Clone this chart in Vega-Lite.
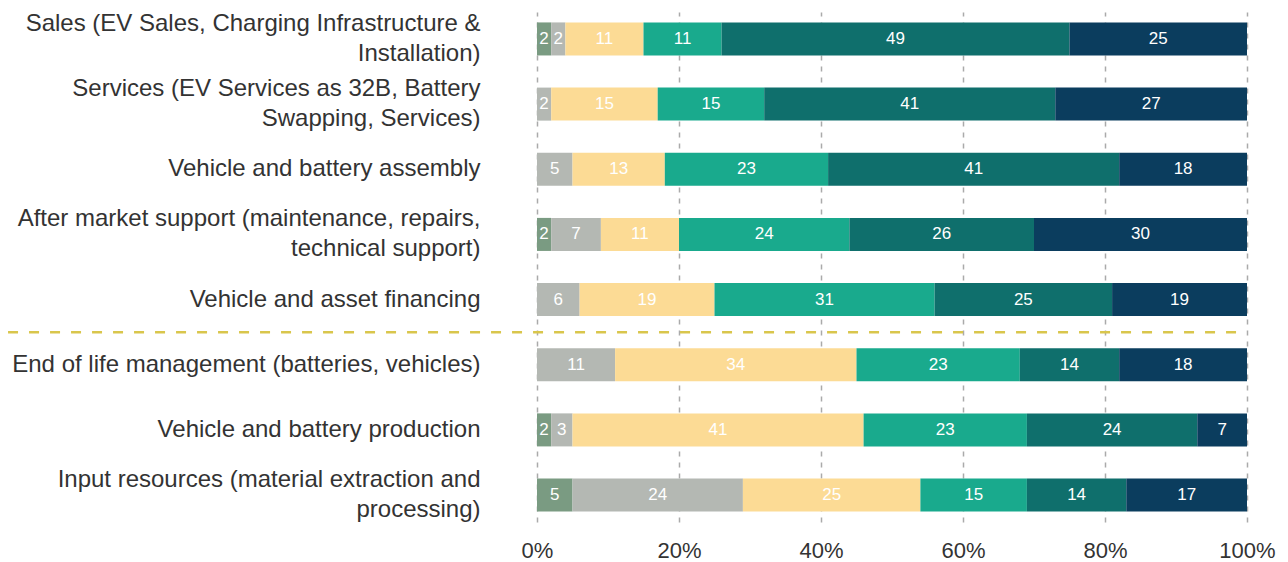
{
  "$schema": "https://vega.github.io/schema/vega-lite/v6.json",
  "width": 710,
  "height": 510,
  "autosize": {"type": "none"},
  "padding": {"left": 537, "top": 12, "right": 41, "bottom": 40},
  "config": {"view": {"stroke": null}, "font": "Liberation Sans"},
  "data": {"values": [
    {"stage": "Sales (EV Sales, Charging Infrastructure & Installation)", "level": "L1", "pct": 2},
    {"stage": "Sales (EV Sales, Charging Infrastructure & Installation)", "level": "L2", "pct": 2},
    {"stage": "Sales (EV Sales, Charging Infrastructure & Installation)", "level": "L3", "pct": 11},
    {"stage": "Sales (EV Sales, Charging Infrastructure & Installation)", "level": "L4", "pct": 11},
    {"stage": "Sales (EV Sales, Charging Infrastructure & Installation)", "level": "L5", "pct": 49},
    {"stage": "Sales (EV Sales, Charging Infrastructure & Installation)", "level": "L6", "pct": 25},
    {"stage": "Services (EV Services as 32B, Battery Swapping, Services)", "level": "L2", "pct": 2},
    {"stage": "Services (EV Services as 32B, Battery Swapping, Services)", "level": "L3", "pct": 15},
    {"stage": "Services (EV Services as 32B, Battery Swapping, Services)", "level": "L4", "pct": 15},
    {"stage": "Services (EV Services as 32B, Battery Swapping, Services)", "level": "L5", "pct": 41},
    {"stage": "Services (EV Services as 32B, Battery Swapping, Services)", "level": "L6", "pct": 27},
    {"stage": "Vehicle and battery assembly", "level": "L2", "pct": 5},
    {"stage": "Vehicle and battery assembly", "level": "L3", "pct": 13},
    {"stage": "Vehicle and battery assembly", "level": "L4", "pct": 23},
    {"stage": "Vehicle and battery assembly", "level": "L5", "pct": 41},
    {"stage": "Vehicle and battery assembly", "level": "L6", "pct": 18},
    {"stage": "After market support (maintenance, repairs, technical support)", "level": "L1", "pct": 2},
    {"stage": "After market support (maintenance, repairs, technical support)", "level": "L2", "pct": 7},
    {"stage": "After market support (maintenance, repairs, technical support)", "level": "L3", "pct": 11},
    {"stage": "After market support (maintenance, repairs, technical support)", "level": "L4", "pct": 24},
    {"stage": "After market support (maintenance, repairs, technical support)", "level": "L5", "pct": 26},
    {"stage": "After market support (maintenance, repairs, technical support)", "level": "L6", "pct": 30},
    {"stage": "Vehicle and asset financing", "level": "L2", "pct": 6},
    {"stage": "Vehicle and asset financing", "level": "L3", "pct": 19},
    {"stage": "Vehicle and asset financing", "level": "L4", "pct": 31},
    {"stage": "Vehicle and asset financing", "level": "L5", "pct": 25},
    {"stage": "Vehicle and asset financing", "level": "L6", "pct": 19},
    {"stage": "End of life management (batteries, vehicles)", "level": "L2", "pct": 11},
    {"stage": "End of life management (batteries, vehicles)", "level": "L3", "pct": 34},
    {"stage": "End of life management (batteries, vehicles)", "level": "L4", "pct": 23},
    {"stage": "End of life management (batteries, vehicles)", "level": "L5", "pct": 14},
    {"stage": "End of life management (batteries, vehicles)", "level": "L6", "pct": 18},
    {"stage": "Vehicle and battery production", "level": "L1", "pct": 2},
    {"stage": "Vehicle and battery production", "level": "L2", "pct": 3},
    {"stage": "Vehicle and battery production", "level": "L3", "pct": 41},
    {"stage": "Vehicle and battery production", "level": "L4", "pct": 23},
    {"stage": "Vehicle and battery production", "level": "L5", "pct": 24},
    {"stage": "Vehicle and battery production", "level": "L6", "pct": 7},
    {"stage": "Input resources (material extraction and processing)", "level": "L1", "pct": 5},
    {"stage": "Input resources (material extraction and processing)", "level": "L2", "pct": 24},
    {"stage": "Input resources (material extraction and processing)", "level": "L3", "pct": 25},
    {"stage": "Input resources (material extraction and processing)", "level": "L4", "pct": 15},
    {"stage": "Input resources (material extraction and processing)", "level": "L5", "pct": 14},
    {"stage": "Input resources (material extraction and processing)", "level": "L6", "pct": 17}
  ]},
  "layer": [
    {
      "mark": {"type": "bar"},
      "encoding": {
        "y": {
          "field": "stage", "type": "nominal",
          "sort": ["Sales (EV Sales, Charging Infrastructure & Installation)", "Services (EV Services as 32B, Battery Swapping, Services)", "Vehicle and battery assembly", "After market support (maintenance, repairs, technical support)", "Vehicle and asset financing", "End of life management (batteries, vehicles)", "Vehicle and battery production", "Input resources (material extraction and processing)"],
          "scale": {"paddingInner": 0.493, "paddingOuter": 0.16},
          "axis": {
            "title": null, "ticks": false, "domain": false, "labelPadding": 57,
            "labelFontSize": 24, "labelColor": "#333333", "labelLimit": 700, "labelLineHeight": 30, "labelAlign": "right",
            "labelOffset": {"condition": {"test": "length(datum.value) > 48", "value": -15}, "value": 0},
            "labelExpr": "datum.value == 'Sales (EV Sales, Charging Infrastructure & Installation)' ? ['Sales (EV Sales, Charging Infrastructure &', 'Installation)'] : datum.value == 'Services (EV Services as 32B, Battery Swapping, Services)' ? ['Services (EV Services as 32B, Battery', 'Swapping, Services)'] : datum.value == 'After market support (maintenance, repairs, technical support)' ? ['After market support (maintenance, repairs,', 'technical support)'] : datum.value == 'Input resources (material extraction and processing)' ? ['Input resources (material extraction and', 'processing)'] : datum.value"
          }
        },
        "x": {
          "field": "pct", "type": "quantitative", "stack": "normalize",
          "scale": {"domain": [0, 1]},
          "axis": {
            "title": null, "format": ".0%", "values": [0, 0.2, 0.4, 0.6, 0.8, 1],
            "ticks": false, "domain": false, "labelPadding": 18, "labelFlush": false,
            "labelFontSize": 22, "labelColor": "#333333",
            "grid": true, "gridDash": [5, 6], "gridColor": "#aaaaaa", "gridWidth": 1.5
          }
        },
        "color": {
          "field": "level", "type": "nominal", "legend": null,
          "scale": {"domain": ["L1", "L2", "L3", "L4", "L5", "L6"], "range": ["#7a9b82", "#b4b8b3", "#fcdb95", "#19aa8d", "#0f6f6c", "#0b3d5e"]}
        },
        "order": {"field": "level"}
      }
    },
    {
      "mark": {"type": "text", "color": "white", "fontSize": 17},
      "encoding": {
        "y": {
          "field": "stage", "type": "nominal",
          "sort": ["Sales (EV Sales, Charging Infrastructure & Installation)", "Services (EV Services as 32B, Battery Swapping, Services)", "Vehicle and battery assembly", "After market support (maintenance, repairs, technical support)", "Vehicle and asset financing", "End of life management (batteries, vehicles)", "Vehicle and battery production", "Input resources (material extraction and processing)"]
        },
        "x": {"field": "pct", "type": "quantitative", "stack": "normalize", "bandPosition": 0.5},
        "text": {"field": "pct", "type": "quantitative"},
        "order": {"field": "level"}
      }
    },
    {
      "data": {"values": [{"stage": "Vehicle and asset financing", "from": -0.745, "to": 1}]},
      "mark": {"type": "rule", "color": "#d9c64c", "strokeWidth": 2.5, "strokeDash": [10, 11]},
      "encoding": {
        "y": {
          "field": "stage", "type": "nominal", "bandPosition": 1.487,
          "sort": ["Sales (EV Sales, Charging Infrastructure & Installation)", "Services (EV Services as 32B, Battery Swapping, Services)", "Vehicle and battery assembly", "After market support (maintenance, repairs, technical support)", "Vehicle and asset financing", "End of life management (batteries, vehicles)", "Vehicle and battery production", "Input resources (material extraction and processing)"]
        },
        "x": {"field": "from", "type": "quantitative"},
        "x2": {"field": "to"}
      }
    }
  ]
}
